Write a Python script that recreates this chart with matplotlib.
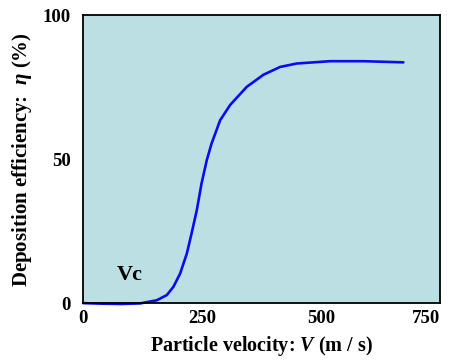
import matplotlib
matplotlib.use("Agg")
import matplotlib.pyplot as plt

velocity = [0, 40, 80, 120, 155, 176, 190, 204, 218, 228, 239, 249, 260, 270, 288, 309,
            344, 379, 414, 449, 519, 589, 673]
efficiency = [0, -0.2, -0.3, -0.1, 1.0, 2.8, 5.7, 10.3, 17.2, 24.2, 32.3, 41.6, 49.7, 55.4, 63.5, 68.8,
              75.1, 79.3, 82, 83.2, 84, 84, 83.6]
xticks = [0, 250, 500, 750]
yticks = [0, 50, 100]

plt.rcParams['font.family'] = 'Liberation Serif'
plt.rcParams['font.weight'] = 'bold'
plt.rcParams['mathtext.fontset'] = 'custom'
plt.rcParams['mathtext.rm'] = 'Liberation Serif:bold'
plt.rcParams['mathtext.it'] = 'Liberation Serif:italic:bold'
plt.rcParams['mathtext.bf'] = 'Liberation Serif:bold'

fig = plt.figure(figsize=(4.49, 3.6), dpi=100)
ax = fig.add_axes([0.185, 0.158, 0.795, 0.8])
ax.set_facecolor('#bbdfe2')

# curve
ax.plot(velocity, efficiency, color='#0b0bf0', lw=1.9, clip_on=False,
        solid_capstyle='round', solid_joinstyle='round')

ax.set_xlim(0, 750)
ax.set_ylim(0, 100)
ax.set_xticks(xticks)
ax.set_yticks(yticks)
ax.tick_params(length=0, labelsize=13.5)
ax.tick_params(axis='x', pad=5)
ax.tick_params(axis='y', pad=9)
ax.get_xticklabels()[-1].set_horizontalalignment('right')
for s in ax.spines.values():
    s.set_linewidth(1.3)

ax.text(99, 9.7, 'Vc', fontsize=16, fontweight='bold', ha='center', va='center')

ax.set_xlabel('Particle velocity: $V$ (m / s)', fontsize=14.5, fontweight='bold', labelpad=5)
ax.set_ylabel('Deposition efficiency:  $\\eta$ (%)', fontsize=15, fontweight='bold', labelpad=6)

fig.savefig('out.png', dpi=100)
